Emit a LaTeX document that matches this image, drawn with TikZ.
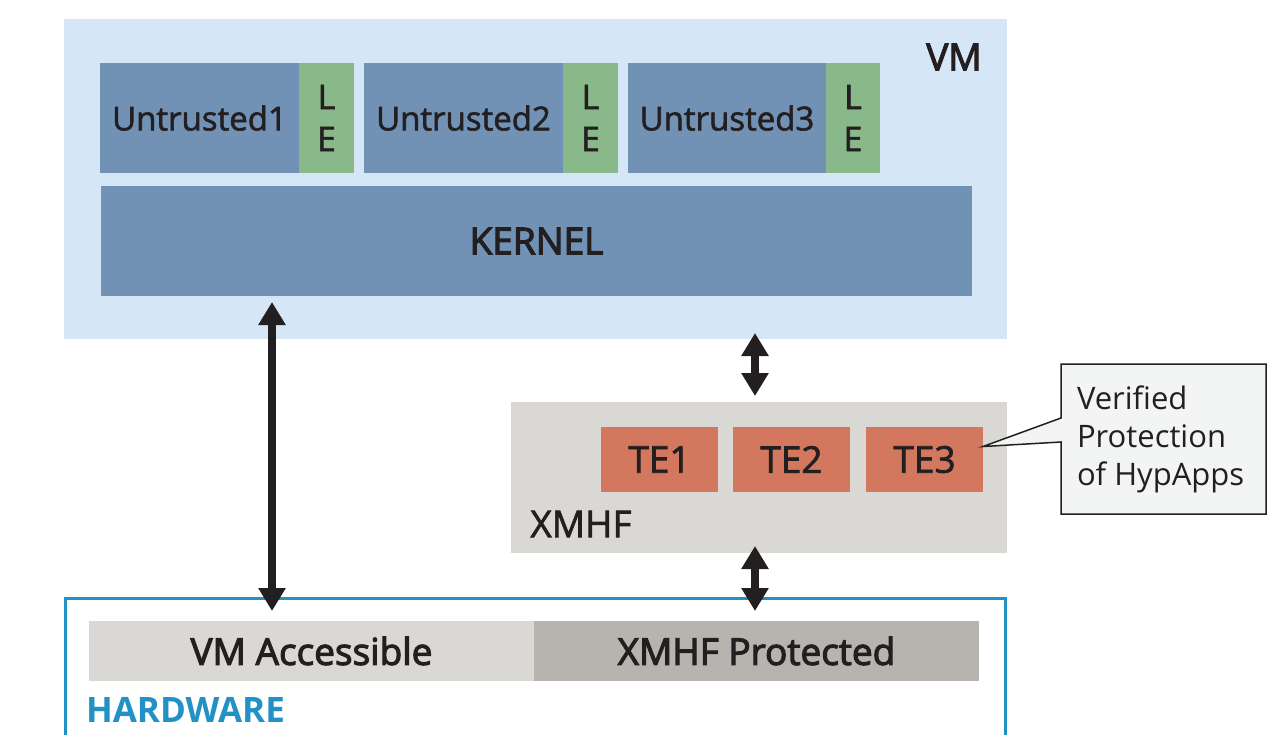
\documentclass[tikz,border=0pt]{standalone}
\usepackage{fontspec}
\setmainfont{Open Sans}
\newfontfamily\sbf{Open Sans}[FakeBold=3]
\newfontfamily\mdf{Open Sans}[FakeBold=1.8]
\usetikzlibrary{arrows.meta,calc}
\definecolor{vmbg}{HTML}{D5E7F6}
\definecolor{ublue}{HTML}{7192B5}
\definecolor{legreen}{HTML}{89B98A}
\definecolor{xgray}{HTML}{D9D8D5}
\definecolor{pgray}{HTML}{B7B4AF}
\definecolor{tered}{HTML}{D4775F}
\definecolor{txt}{HTML}{231F20}
\definecolor{hwblue}{HTML}{2291C5}
\definecolor{callbg}{HTML}{F3F5F5}
\tikzset{
  blk/.style={inner sep=0pt, outer sep=0pt, anchor=north west, text=txt},
  lbl/.style={inner sep=0pt, outer sep=0pt, text=txt},
  dbl/.style={line width=8pt, draw=txt,
    {Triangle[width=26pt,length=23pt]}-{Triangle[width=26pt,length=23pt]}},
}
\newcommand{\fs}[1]{\fontsize{#1}{#1}\selectfont}
\begin{document}
\begin{tikzpicture}[x=1pt,y=-1pt]
\useasboundingbox (0,0) rectangle (1280,734);
% VM
\node[blk, fill=vmbg, minimum width=943pt, minimum height=320pt] (vm) at (64,19) {};
\node[lbl, font=\sbf\fs{37}] (vmlabel) at (954,57) {VM};
\node[blk, fill=ublue, minimum width=199pt, minimum height=110pt, font=\mdf\fs{33}] (u1) at (100,63) {\raisebox{-2pt}{Untrusted1}};
\node[blk, fill=legreen, minimum width=55pt, minimum height=110pt, align=center, font=\mdf\fontsize{34}{42}\selectfont] (le1) at (299,63) {L\\E};
\node[blk, fill=ublue, minimum width=199pt, minimum height=110pt, font=\mdf\fs{33}] (u2) at (364,63) {\raisebox{-2pt}{Untrusted2}};
\node[blk, fill=legreen, minimum width=55pt, minimum height=110pt, align=center, font=\mdf\fontsize{34}{42}\selectfont] (le2) at (563,63) {L\\E};
\node[blk, fill=ublue, minimum width=198pt, minimum height=110pt, font=\mdf\fs{33}] (u3) at (628,63) {\raisebox{-2pt}{Untrusted3}};
\node[blk, fill=legreen, minimum width=54pt, minimum height=110pt, align=center, font=\mdf\fontsize{34}{42}\selectfont] (le3) at (826,63) {L\\E};
\node[blk, fill=ublue, minimum width=871pt, minimum height=110pt, font=\sbf\fs{37}] (kernel) at (101,186) {KERNEL};
% XMHF
\node[blk, fill=xgray, minimum width=496pt, minimum height=151pt] (xmhf) at (511,402) {};
\node[lbl, font=\mdf\fs{37}] (xmhflabel) at (581,524) {XMHF};
\node[blk, fill=tered, minimum width=117pt, minimum height=65pt, font=\mdf\fs{37}] (te1) at (601,427) {TE1};
\node[blk, fill=tered, minimum width=117pt, minimum height=65pt, font=\mdf\fs{37}] (te2) at (733,427) {TE2};
\node[blk, fill=tered, minimum width=117pt, minimum height=65pt, font=\mdf\fs{37}] (te3) at (866,427) {TE3};
% callout
\node[blk, minimum width=205pt, minimum height=150pt] (call) at (1061,364) {};
\coordinate (tip) at ($(te3.north east)!0.3!(te3.south east)$);
\draw[line width=1.5pt, draw=txt, fill=callbg, line join=miter]
  (call.north west) -- (call.north east) -- (call.south east) -- (call.south west)
  -- ($(call.north west)+(0,78)$) -- (tip) -- ($(call.north west)+(0,54)$) -- cycle;
\node[lbl, anchor=north west, align=left, font=\fontsize{31}{38}\selectfont] (calltext) at (1077,386) {Verified\\Protection\\of HypApps};
% hardware
\coordinate (hwbl) at (65,740);
\coordinate (hwtl) at (65,598);
\coordinate (hwtr) at (1005,598);
\coordinate (hwbr) at (1005,740);
\draw[line width=3pt, draw=hwblue] (hwbl) -- (hwtl) -- (hwtr) -- (hwbr);
\node[blk, fill=xgray, minimum width=445pt, minimum height=60pt, font=\sbf\fs{37}] (va) at (89,621) {\raisebox{-2pt}{VM Accessible}};
\node[blk, fill=pgray, minimum width=445pt, minimum height=60pt, font=\sbf\fs{37}] (xp) at (534,621) {\raisebox{-2pt}{XMHF Protected}};
\node[lbl, anchor=west, text=hwblue, font=\bfseries\fs{35}] (hwlabel) at (86,710) {HARDWARE};
% arrows
\coordinate (a1t) at (272,302);
\coordinate (a1b) at (272,611);
\coordinate (a2t) at (755,333);
\coordinate (a2b) at (755,396);
\coordinate (a3t) at (755,546);
\coordinate (a3b) at (755,611);
\draw[dbl] (a1t) -- (a1b);
\draw[dbl] (a2t) -- (a2b);
\draw[dbl] (a3t) -- (a3b);
\end{tikzpicture}
\end{document}
